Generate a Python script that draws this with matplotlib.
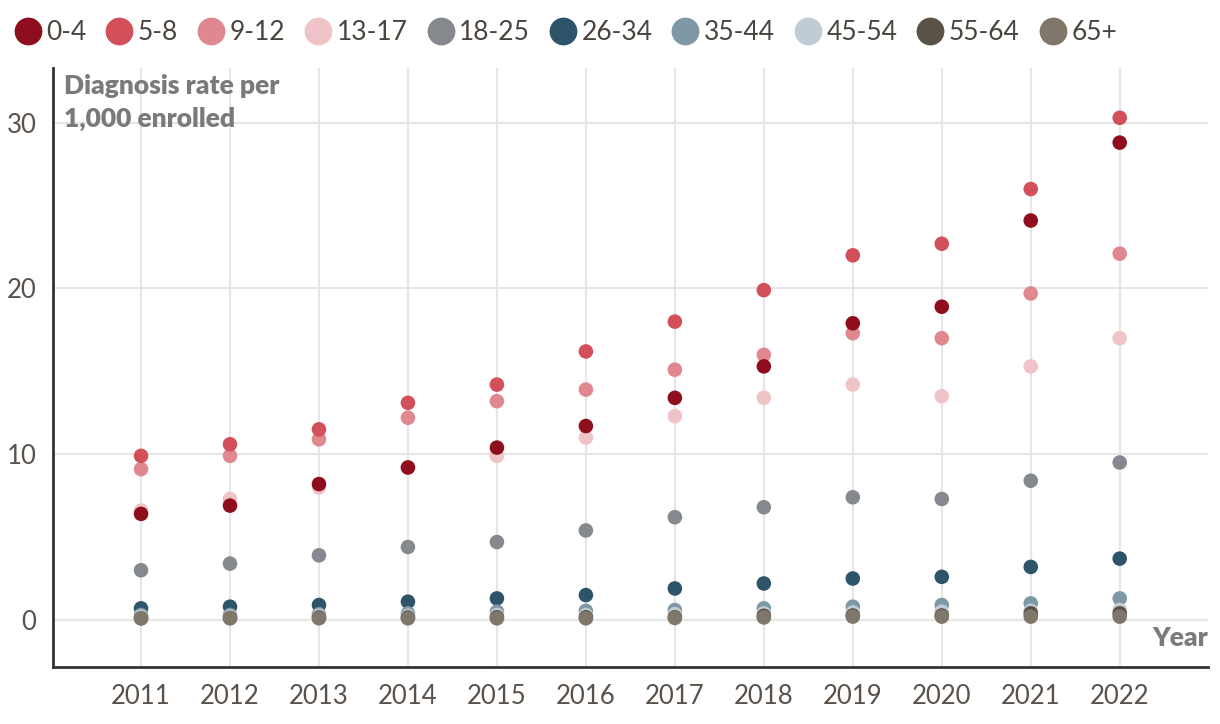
import matplotlib.pyplot as plt
from matplotlib.lines import Line2D

plt.rcParams['font.family'] = ['Lato', 'DejaVu Sans']

years = [2011, 2012, 2013, 2014, 2015, 2016, 2017, 2018, 2019, 2020, 2021, 2022]
groups = ['0-4', '5-8', '9-12', '13-17', '18-25', '26-34', '35-44', '45-54', '55-64', '65+']
colors = ['#8f0e1e', '#d34f5a', '#e08890', '#f0c4c7', '#85898d',
          '#2d5468', '#7f98a6', '#c0cbd3', '#5a5248', '#7f776a']

rate_0_4 = [6.4, 6.9, 8.2, 9.2, 10.4, 11.7, 13.4, 15.3, 17.9, 18.9, 24.1, 28.8]
rate_5_8 = [9.9, 10.6, 11.5, 13.1, 14.2, 16.2, 18.0, 19.9, 22.0, 22.7, 26.0, 30.3]
rate_9_12 = [9.1, 9.9, 10.9, 12.2, 13.2, 13.9, 15.1, 16.0, 17.3, 17.0, 19.7, 22.1]
rate_13_17 = [6.6, 7.3, 8.0, 9.2, 9.9, 11.0, 12.3, 13.4, 14.2, 13.5, 15.3, 17.0]
rate_18_25 = [3.0, 3.4, 3.9, 4.4, 4.7, 5.4, 6.2, 6.8, 7.4, 7.3, 8.4, 9.5]
rate_26_34 = [0.7, 0.8, 0.9, 1.1, 1.3, 1.5, 1.9, 2.2, 2.5, 2.6, 3.2, 3.7]
rate_35_44 = [0.3, 0.3, 0.35, 0.4, 0.5, 0.55, 0.6, 0.7, 0.8, 0.9, 1.0, 1.3]
rate_45_54 = [0.2, 0.2, 0.25, 0.25, 0.3, 0.3, 0.35, 0.4, 0.45, 0.5, 0.55, 0.6]
rate_55_64 = [0.1, 0.12, 0.15, 0.15, 0.16, 0.16, 0.16, 0.25, 0.27, 0.27, 0.4, 0.4]
rate_65 = [0.1, 0.1, 0.1, 0.1, 0.1, 0.1, 0.12, 0.15, 0.2, 0.2, 0.2, 0.2]

series = [rate_0_4, rate_5_8, rate_9_12, rate_13_17, rate_18_25,
          rate_26_34, rate_35_44, rate_45_54, rate_55_64, rate_65]
# reds are stacked with the youngest group on top, the rest in order
zorders = [14, 13, 12, 11, 5, 6, 7, 8, 9, 10]

fig = plt.figure(figsize=(12.2, 7.24), dpi=100)
ax = fig.add_axes([0.0434, 0.0787, 0.9466, 0.8273])

for vals, col, z in zip(series, colors, zorders):
    ax.scatter(years, vals, s=110, color=col, edgecolors='none', zorder=z)

ax.set_xlim(2010.01, 2022.99)
ax.set_ylim(-2.84, 33.3)
ax.set_xticks(years)
ax.set_yticks([0, 10, 20, 30])
ax.grid(True, color='#e6e6e6', linewidth=1.5, zorder=0)
ax.set_axisbelow(True)
for side in ['top', 'right']:
    ax.spines[side].set_visible(False)
for side in ['left', 'bottom']:
    ax.spines[side].set_color('#333333')
    ax.spines[side].set_linewidth(2)
ax.tick_params(length=0, labelsize=18.5, labelcolor='#5a524a', pad=12)
ax.tick_params(axis='y', pad=12)

ax.text(0.01, 0.99, 'Diagnosis rate per\n1,000 enrolled', transform=ax.transAxes,
        ha='left', va='top', fontsize=19, fontweight='heavy', color='#7a7a7a',
        linespacing=1.45)
ax.text(1.0, 0.068, 'Year', transform=ax.transAxes, ha='right', va='top',
        fontsize=19, fontweight='heavy', color='#7a7a7a')

handles = [Line2D([], [], marker='o', linestyle='none', markersize=20,
                  markerfacecolor=c, markeredgecolor='none') for c in colors]
fig.legend(handles, groups, loc='upper left', bbox_to_anchor=(-0.012, 1.005),
           ncol=10, frameon=False, fontsize=19, handletextpad=0.0,
           columnspacing=0.55, labelcolor='#4a443e', handlelength=1.4)

fig.savefig('out.png', dpi=100)
